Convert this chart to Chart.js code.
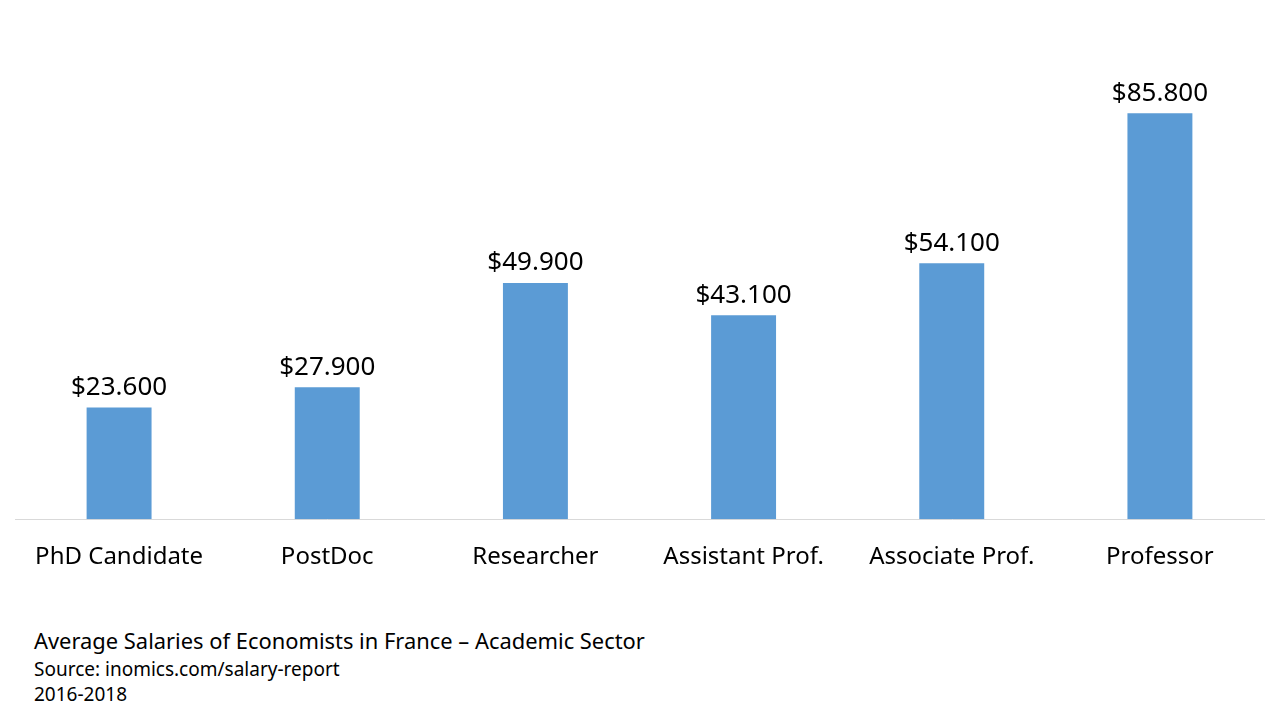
<!DOCTYPE html>
<html>
<head>
<meta charset="utf-8">
<script src="https://cdn.jsdelivr.net/npm/chart.js@4/dist/chart.umd.min.js"></script>
<style>
  body { margin: 0; background: #fff; }
  #wrap { position: relative; width: 1280px; height: 720px; }
  #chartBox { position: absolute; left: 0; top: 0; width: 1280px; height: 600px; }
  .cap { position: absolute; left: 34px; font-family: "Noto Sans", sans-serif; color: #000; white-space: nowrap; }
</style>
</head>
<body>
<div id="wrap">
  <div id="chartBox"><canvas id="myChart"></canvas></div>
  <div class="cap" style="top:626px;font-size:21.9px;">Average Salaries of Economists in France – Academic Sector</div>
  <div class="cap" style="top:656px;font-size:19px;">Source: inomics.com/salary-report</div>
  <div class="cap" style="top:681px;font-size:19px;">2016-2018</div>
</div>
<script>
var categories = ['PhD Candidate', 'PostDoc', 'Researcher', 'Assistant Prof.', 'Associate Prof.', 'Professor'];
var salaries = [23600, 27900, 49900, 43100, 54100, 85800];

function fmt(v) {
    return '$' + v.toLocaleString('de-DE');
}

var barLabels = {
    id: 'barLabels',
    afterDatasetsDraw: function(chart) {
        var ctx = chart.ctx;
        var meta = chart.getDatasetMeta(0);
        ctx.save();
        ctx.font = '26px "Noto Sans", sans-serif';
        ctx.fillStyle = '#000';
        ctx.textAlign = 'center';
        ctx.textBaseline = 'bottom';
        for (var i = 0; i < meta.data.length; i++) {
            var bar = meta.data[i];
            ctx.fillText(fmt(salaries[i]), bar.x, bar.y - 7);
        }
        ctx.restore();
    }
};

var ctx = document.getElementById('myChart');
var myChart = new Chart(ctx, {
    type: 'bar',
    data: {
        labels: categories,
        datasets: [{
            data: salaries,
            backgroundColor: '#5b9bd5',
            barPercentage: 0.52,
            categoryPercentage: 0.6
        }]
    },
    options: {
        responsive: true,
        maintainAspectRatio: false,
        animation: false,
        layout: { padding: { left: 15, right: 16, top: 46, bottom: 4 } },
        plugins: {
            legend: { display: false },
            tooltip: { enabled: false }
        },
        scales: {
            x: {
                grid: { display: false, drawTicks: false },
                border: { color: '#d9d9d9', width: 1 },
                ticks: {
                    color: '#000',
                    padding: 24,
                    font: { family: '"Noto Sans", sans-serif', size: 24 }
                }
            },
            y: {
                display: false,
                min: 0,
                max: 100000
            }
        }
    },
    plugins: [barLabels]
});
</script>
</body>
</html>
